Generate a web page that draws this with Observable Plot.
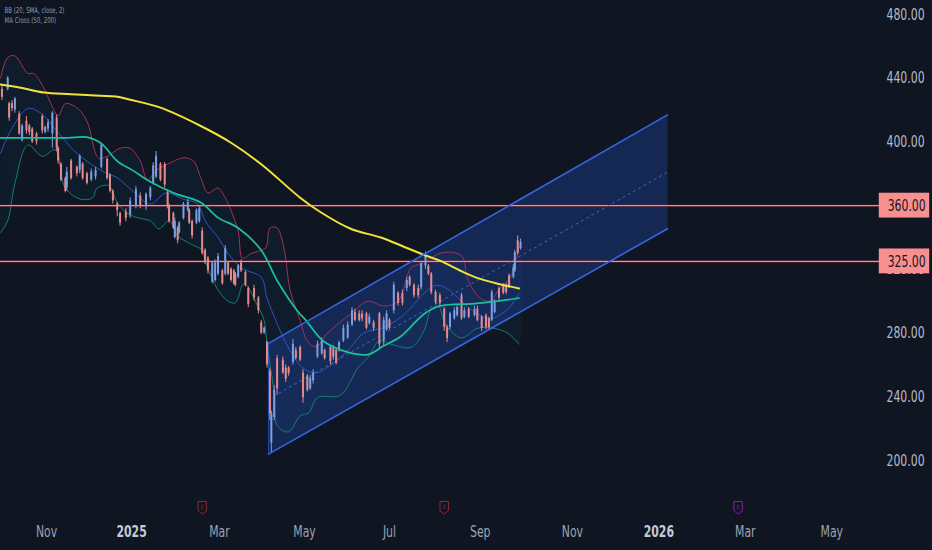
<!DOCTYPE html>
<html>
<head>
<meta charset="utf-8">
<script src="https://cdn.jsdelivr.net/npm/d3@7"></script>
<script src="https://cdn.jsdelivr.net/npm/@observablehq/plot@0.6"></script>
<style>html,body{margin:0;padding:0;background:#0f1622;overflow:hidden}</style>
</head>
<body>
<div id="chart"></div>
<script>
const origin = new Date(Date.UTC(2024, 10, 1));
const toDate = d => d3.utcDay.offset(origin, d);

const candleDay = [-31,-27,-26,-24,-22,-19,-17,-14,-12,-10,
-7,-3,-1,1,4,7,8,10,13,14,
17,21,23,25,28,31,34,38,42,44,
46,49,51,55,58,62,65,69,72,74,
76,79,82,84,85,88,89,91,92,95,
98,99,101,104,106,108,110,112,115,117,
119,122,124,126,128,130,131,133,135,138,
140,144,147,149,151,153,155,156,158,160,
164,166,168,171,173,176,178,181,183,185,
188,191,193,197,199,201,203,206,209,212,
214,217,219,222,224,227,231,234,236,238,
241,244,247,250,252,255,258,260,263,265,
267,270,273,276,278,280,283,285,288,290,
293,297,299,302,305,307,309,311,314,317,
319,321,324,325,327,329];
const candleOpen = [433,433,424,424,420,417.5,401,413,410,408,
405,416,406,408,405,415,396,386,377,371,
388,384,382,386,380,376,378,384,389,379,
369,361,355,356,354,360,366,359,365,374,
378,386,386,368,360,355,340,346,343,352,
357,357,350,349,350,344,332,327,312,313,
317,319,317,324,320,319,317,315,324,318,
308,308,302,286.5,280,274,256,211,227,264,
263,258,258,261.5,269,271,255,253,245,250,
265,267,269,271,270,269,269,275,277,285,
293,292,292,292,286,286.5,292,275,282,288,
294,305,305,308,315,310,308,308.5,322,322,
317,305.5,303.5,295,283.5,283.5,289,291,303.5,290,
295,291,295,290,291,289,288,293,308,310,
310,316,315,319,338,333];
const candleClose = [428,440,415,421,427,405,410,407,406,400,
400,407,409,412,418,396,388,376,369,381,
377,380,391,377,374,381,382,398,377,369,
363,357,349,352,363,370,360,367,371,385,
391,376,373,360,350,346,350,338,349,361,
362,349,341,357,358,330,325,319,324,324,
328,311,333,317,313,311,310,322,319,310,
298,302,294,280,283,260,229,229,244,245,
255,251,254.5,273,264,263,239.5,244,251.5,255,
273,275,264,262,265,261,274,283,285,294,
288,288,289,283,290,283,273,288,292,283,
310,298.5,298.5,313,310,303.5,303.5,323.5,329,317,
305.5,299,298.5,283.5,276.5,292,294,296,289,294,
290,295,288,283,283.5,283.5,305.5,299,302,305,
305.5,308.5,321,330.5,330,337];
const candleHigh = [436,441,425,426,428,419,411,416,411,409,
406,417,410,414,419,417,397,387,378,384,
389,385,392,387,381,383,384,399,390,380,
370,362,356,358,365,372,368,368,372,387,
394,387,387,370,361,356,352,347,350,362,
364,358,351,358,360,346,333,328,325,326,
330,320,335,325,321,320,318,323,326,319,
309,310,303,288,284,275,258,231,247,266,
265,260,259,276,271,272,257,254,253,257,
275,277,270,272,272,270,275,285,287,296,
295,294,294,293,292,288,293,290,294,289,
312,306,307,315,316,311,310,325,331,323,
318,307,305,296,285,293,296,297,305,296,
296,297,297,291,292,290,307,301,309,311,
311,317,323,332,341,339];
const candleLow = [426,432,413,419,418,404,400,405,404,399,
398,405,405,406,396,394,386,375,368,369,
376,378,380,376,373,375,376,383,376,368,
361,353,347,350,352,358,358,357,363,373,
377,375,371,358,349,345,339,336,342,351,
356,348,339,348,349,329,323,317,311,312,
316,310,316,316,312,310,309,314,318,309,
296,300,292,279,279,258,225,205,225,241,
254,249,253,260,263,262,236,243,244,248,
264,266,263,260,263,260,268,274,276,284,
287,287,287,282,285,281,270,272,281,282,
292,297,297,306,309,302,302,307,320,316,
304,298,296,281,274,282,288,290,288,289,
289,290,287,281,282,282,287,292,300,304,
304,308,314,318,329,332];

const ma200Day = [-32,-18,-2,17,37,48,58,79,107,128,149,176,190,211,232,246,262,273,290,301,313,328];
const ma200Val = [436,434,431,430,429,428.5,426.5,421.5,410,399.5,386,365,356,345.5,340,335,329,325.5,318,314,311,308];
const ma50Day = [-32,-18,3,15,28,38,49,60,72,88,107,119,133,149,160,174,180,192,209,223,234,246,262,273,297,313,328];
const ma50Val = [402.6,402.6,402.6,402.6,403,399,388,382,375,368,362,352.5,346,332,313,294,288,275,268,266.5,272,278,292,297,298.5,300,302];
const bbUpperDay = [-32,-27,-22,-13,-9,-2,3,8,13,21,28,36,42,51,58,65,70,76,84,95,102,107,112,119,124,128,133,136,142,152,155,160,165,169,176,181,187,195,211,223,234,244,253,260,275,288,292,299,307,315,322,328];
const bbUpperVal = [440,453,454,443,443,434,424,416.5,424,421.5,413,390,391,396,396,388,376,382,386,390,388,377.5,368,371,365,357,344,327,330,333.5,346,346,332,307,288,275,271.5,280,292,300,297,300,321,323.5,330.5,328.5,315,303.5,300,308.5,315,335];
const bbBasisDay = [-32,-25,-13,-4,8,19,31,40,49,60,72,83,95,105,110,119,126,135,149,153,160,169,178,187,199,211,220,234,246,253,262,270,278,288,299,308,320,328];
const bbBasisVal = [392.6,407,421,418,406,394.5,386,381,377.5,369,361,368,364,361,350.5,340,330,321,315,302,286,269,258,255,261,271,280,283.5,290,296,305,310,308,300,292,289,295,305];
const bbLowerDay = [-32,-27,-22,-13,-3,6,13,24,32,35,43,49,56,65,72,78,85,91,100,108,110,119,126,131,137,147,151,153,158,160,168,176,182,188,204,216,223,231,239,253,262,267,272,277,288,299,310,320,328];
const bbLowerVal = [343,350.5,374,398,391,395,371,364,365,371,372.5,362,355,352,350.5,345.5,350.5,341,336,332,325.5,307,300,299,311,296,288,273,242,222,218,228,230,239.5,241,258,264.5,275,273,271,281.5,295,297,285,277,283,283,280,273];

const channelDay = [154, 431];
const channelTop = [273.5, 417];
const channelMid = [238.5, 381];
const channelBottom = [204, 345.5];

const yTicks = [200,240,280,320,360,400,440,480];
const levels = [360, 325];
const levelBoxStart = 578, levelBoxEnd = 613, levelTextDay = 597, levelBoxHalf = 7.8;
const monthTickDays = [0,120,179,238,301,365,485,545];
const monthTickNames = ["Nov","Mar","May","Jul","Sep","Nov","Mar","May"];
const yearTickDays = [59,425];
const yearTickNames = ["2025","2026"];
const earningsDay = [108, 276, 480];
const earningsColor = ["#8c2a35","#8c2a35","#8a1fa5"];
const earningsRow = 170.5;
const legendLines = ["BB (20, SMA, close, 2)\nMA Cross (50, 200)"];

const upColor = "#7a9fe2", downColor = "#e58a8c", lineBg = "#0f1622";

const candles = candleDay.map((d,i)=>({x:toDate(d),open:candleOpen[i],close:candleClose[i],high:candleHigh[i],low:candleLow[i]}));
const series = (days,vals)=>days.map((d,i)=>({x:toDate(d),y:vals[i]}));
const ma200 = series(ma200Day,ma200Val), ma50 = series(ma50Day,ma50Val);
const bbU = series(bbUpperDay,bbUpperVal), bbB = series(bbBasisDay,bbBasisVal), bbL = series(bbLowerDay,bbLowerVal);
const bbPoly = bbU.concat(bbL.slice().reverse());
const chanTop = series(channelDay,channelTop), chanMid = series(channelDay,channelMid), chanBot = series(channelDay,channelBottom);
const chanPoly = chanTop.concat(chanBot.slice().reverse());
const isUp = d=>d.close>=d.open;
const shield = {draw(ctx,size){const s=Math.sqrt(size/Math.PI);
  ctx.moveTo(-s*.7,-s);ctx.lineTo(s*.7,-s);ctx.lineTo(s*.7,s*.55);ctx.lineTo(0,s*1.1);ctx.lineTo(-s*.7,s*.55);ctx.closePath();}};
const earnings = earningsDay.map((d,i)=>({x:toDate(d),y:earningsRow,c:earningsColor[i]}));

const chart = Plot.plot({
  width:932,height:550,marginLeft:0,marginRight:46,marginTop:0,marginBottom:30,
  style:{background:lineBg,fontFamily:"DejaVu Sans",overflow:"visible"},
  x:{type:"utc",domain:[toDate(-32),toDate(583)],range:[0,886]},
  y:{domain:[200,480],range:[460,14]},
  marks:[
    Plot.axisY(yTicks,{anchor:"right",tickSize:0,tickPadding:0,tickFormat:d=>d.toFixed(2),fontSize:16,color:"#b7bcc7",label:null}),
    Plot.axisX(monthTickDays.map(toDate),{anchor:"bottom",tickSize:0,tickPadding:5,tickFormat:d=>monthTickNames[monthTickDays.indexOf(d3.utcDay.count(origin,d))],fontSize:16,color:"#9aa2b0",label:null}),
    Plot.axisX(yearTickDays.map(toDate),{anchor:"bottom",tickSize:0,tickPadding:5,tickFormat:d=>yearTickNames[yearTickDays.indexOf(d3.utcDay.count(origin,d))],fontSize:16,fontWeight:"bold",color:"#c5cad4",label:null}),
    Plot.line(bbPoly,{x:"x",y:"y",curve:"catmull-rom",fill:"#1d6fb0",fillOpacity:0.07,stroke:"none"}),
    Plot.line(chanPoly,{x:"x",y:"y",fill:"#2454c8",fillOpacity:0.30,stroke:"none"}),
    Plot.line(bbU,{x:"x",y:"y",curve:"catmull-rom",stroke:"#a03358",strokeWidth:1}),
    Plot.line(bbB,{x:"x",y:"y",curve:"catmull-rom",stroke:"#3055c0",strokeWidth:1}),
    Plot.line(bbL,{x:"x",y:"y",curve:"catmull-rom",stroke:"#15806c",strokeWidth:1}),
    Plot.ruleY(levels,{stroke:"#6a2330",strokeWidth:2}),
    Plot.ruleY(levels,{stroke:"#eeaaa6",strokeWidth:1}),
    Plot.line(chanMid,{x:"x",y:"y",stroke:"#3f67c8",strokeWidth:1,strokeDasharray:"2 4"}),
    Plot.ruleX(candles,{filter:d=>!isUp(d),x:"x",y1:"low",y2:"high",stroke:downColor,strokeWidth:1}),
    Plot.ruleX(candles,{filter:isUp,x:"x",y1:"low",y2:"high",stroke:upColor,strokeWidth:1}),
    Plot.ruleX(candles,{filter:d=>!isUp(d),x:"x",y1:"open",y2:"close",stroke:downColor,strokeWidth:2}),
    Plot.ruleX(candles,{filter:isUp,x:"x",y1:"open",y2:"close",stroke:upColor,strokeWidth:2}),
    Plot.line(ma50,{x:"x",y:"y",curve:"catmull-rom",stroke:"#1cc09a",strokeWidth:1.7}),
    Plot.line(ma200,{x:"x",y:"y",curve:"catmull-rom",stroke:"#f2e33c",strokeWidth:2}),
    Plot.line(chanTop,{x:"x",y:"y",stroke:"#3466e2",strokeWidth:1.6}),
    Plot.line(chanBot,{x:"x",y:"y",stroke:"#3466e2",strokeWidth:1.6}),
    Plot.ruleX([toDate(channelDay[0])],{y1:channelBottom[0],y2:channelTop[0],stroke:"#3466e2",strokeWidth:1,strokeOpacity:.6}),
    Plot.rect(levels,{x1:()=>toDate(levelBoxStart),x2:()=>toDate(levelBoxEnd),y1:d=>d-levelBoxHalf,y2:d=>d+levelBoxHalf,fill:"#f78f8f"}),
    Plot.text(levels,{x:()=>toDate(levelTextDay),y:d=>d,text:d=>d.toFixed(2),fill:"#131722",fontSize:16}),
    Plot.dot(earnings,{x:"x",y:"y",r:6,symbol:shield,stroke:"c",fill:lineBg,strokeWidth:1}),
    Plot.text(earnings,{x:"x",y:"y",text:()=>"E",fill:"c",fontSize:6}),
    Plot.text(legendLines,{frameAnchor:"top-left",dx:4,dy:5,text:d=>d,fill:"#8f98a8",fontSize:8,lineHeight:1.25})
  ]
});
document.getElementById("chart").appendChild(chart);
// The reference's text is horizontally condensed: scale each label about its own anchor.
chart.querySelectorAll("text").forEach(t=>{
  const tr = t.getAttribute("transform") || "";
  t.setAttribute("transform", (tr + " scale(0.68,1)").trim());
});
</script>
</body>
</html>
